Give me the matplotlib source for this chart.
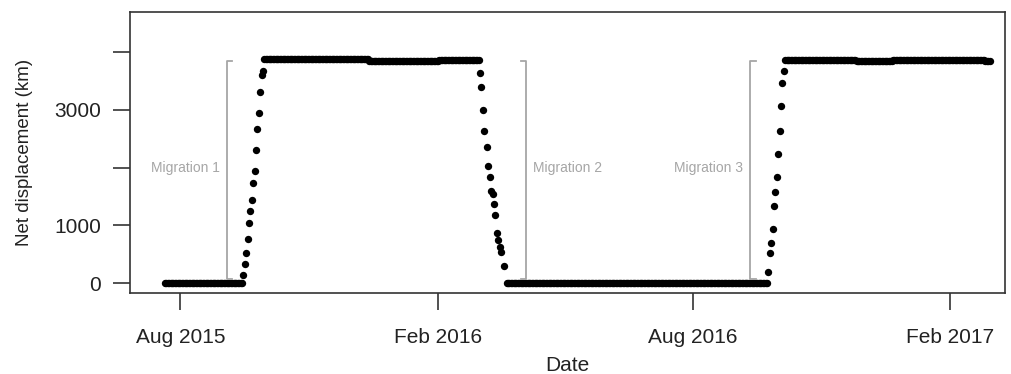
"""
Net displacement over time with the three migration periods marked.
"""

import matplotlib
matplotlib.use("Agg")
import matplotlib.pyplot as plt
import pandas as pd

plt.rcParams['font.family'] = ['Liberation Sans', 'DejaVu Sans']

# Flat stretches: (first day, last day, displacement in km)
flat_segments = [
    ("2015-07-21", "2015-09-14", 0),
    ("2015-09-30", "2015-12-13", 3875),
    ("2015-12-14", "2016-02-01", 3840),
    ("2016-02-02", "2016-03-01", 3865),
    ("2016-03-21", "2016-09-23", 0),
    ("2016-10-06", "2016-11-25", 3865),
    ("2016-11-26", "2016-12-21", 3840),
    ("2016-12-22", "2017-02-25", 3865),
    ("2017-02-26", "2017-03-01", 3850),
]

# Migration 1 (daily fixes)
rise1_start = "2015-09-15"
rise1_values = [139, 329, 525, 762, 1044, 1252, 1437, 1737, 1944, 2303,
                2667, 2949, 3313, 3602, 3676]

# Migration 2
descent_dates = ["2016-03-02", "2016-03-03", "2016-03-04", "2016-03-05",
                 "2016-03-07", "2016-03-08", "2016-03-09", "2016-03-10",
                 "2016-03-11", "2016-03-12", "2016-03-13", "2016-03-14",
                 "2016-03-15", "2016-03-16", "2016-03-17", "2016-03-19"]
descent_values = [3631, 3399, 2996, 2637, 2350, 2026, 1841, 1598, 1541, 1368,
                  1177, 871, 745, 618, 542, 294]

# Migration 3
rise3_start = "2016-09-24"
rise3_values = [196, 514, 698, 935, 1333, 1571, 1841, 2234, 2637, 3065,
                3468, 3671]

# Bracket markers: (date, label, which side the label and ticks go)
brackets = [
    ("2015-09-03", "Migration 1", "left"),
    ("2016-04-04", "Migration 2", "right"),
    ("2016-09-11", "Migration 3", "left"),
]
bracket_low, bracket_high = 70, 3850

x_ticks = ["2015-08-01", "2016-02-01", "2016-08-01", "2017-02-01"]
x_tick_labels = ["Aug 2015", "Feb 2016", "Aug 2016", "Feb 2017"]
y_ticks = [0, 1000, 2000, 3000, 4000]
y_tick_labels = ["0", "1000", "", "3000", ""]

# Build the daily series
parts = []
for start, end, level in flat_segments:
    days = pd.date_range(start, end, freq="D")
    parts.append(pd.Series([level] * len(days), index=days))
parts.append(pd.Series(rise1_values,
                       index=pd.date_range(rise1_start, periods=len(rise1_values), freq="D")))
parts.append(pd.Series(descent_values, index=pd.to_datetime(descent_dates)))
parts.append(pd.Series(rise3_values,
                       index=pd.date_range(rise3_start, periods=len(rise3_values), freq="D")))
track = pd.concat(parts).sort_index()

fig = plt.figure(figsize=(10.11, 3.74), dpi=100)
ax = fig.add_axes([0.1286, 0.2166, 0.8655, 0.7513])

ax.plot(track.index, track.values, 'o', color='black', markersize=5.3,
        markeredgewidth=0)

grey = '#a6a6a6'
tick_days = pd.Timedelta(days=4)
for day, label, side in brackets:
    d = pd.Timestamp(day)
    end = d + tick_days if side == "left" else d - tick_days
    ax.plot([end, d, d, end], [bracket_high, bracket_high, bracket_low, bracket_low],
            color=grey, linewidth=1.3)
    if side == "left":
        ax.text(d - pd.Timedelta(days=5), 2000, label, ha='right', va='center',
                color=grey, fontsize=10)
    else:
        ax.text(d + pd.Timedelta(days=5), 2000, label, ha='left', va='center',
                color=grey, fontsize=10)

ax.set_xlim(pd.Timestamp("2015-06-26"), pd.Timestamp("2017-03-12"))
ax.set_ylim(-173, 4693)
ax.set_xticks(pd.to_datetime(x_ticks))
ax.set_xticklabels(x_tick_labels)
ax.set_yticks(y_ticks)
ax.set_yticklabels(y_tick_labels)
ax.xaxis.set_minor_locator(matplotlib.ticker.NullLocator())

for spine in ax.spines.values():
    spine.set_color('#333333')
    spine.set_linewidth(1.2)
ax.tick_params(direction='out', length=12, width=1.2, color='#333333',
               labelsize=15, labelcolor='#222222')
ax.tick_params(axis='x', pad=13)
ax.tick_params(axis='y', pad=9)

ax.set_xlabel("Date", fontsize=15, color='#222222', labelpad=7)
ax.set_ylabel("Net displacement (km)", fontsize=13.5, color='#222222', labelpad=15)

fig.savefig("out.png", dpi=100)
